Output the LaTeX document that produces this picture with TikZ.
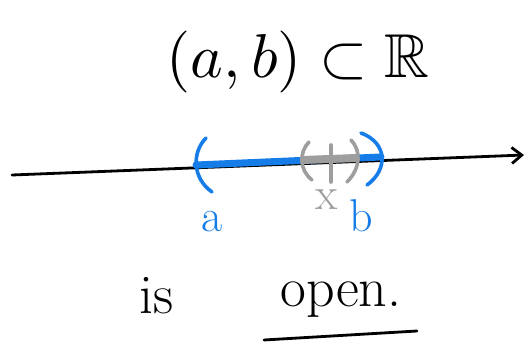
\documentclass[tikz,border=0pt]{standalone}
\usepackage{graphicx}
\usepackage{amsmath,amssymb}
\usetikzlibrary{arrows.meta,positioning}
\definecolor{penblue}{RGB}{22,124,232}
\definecolor{pengray}{RGB}{158,158,158}

\begin{document}
\begin{tikzpicture}[x=1pt, y=-1pt,
  ink/.style={line width=2.8pt, line cap=round, line join=round},
  brk/.style={line width=3.6pt, line cap=round},
  big/.style={inner sep=0pt},
  txt/.style={font=\fontsize{56}{60}\selectfont, inner sep=0pt},
  lbl/.style={font=\fontsize{46}{50}\selectfont, inner sep=0pt}
]
  \useasboundingbox (0,0) rectangle (529,347);

  % title
  \node[big] (title) at (298,62) {\scalebox{6.2}{$(a,b)\subset\mathbb{R}$}};

  % real line
  \coordinate (left) at (12,175);
  \coordinate (right) at (524,155);
  \draw[ink, -{Straight Barb[length=10pt, width=16pt]}] (left) -- (right);

  % the interval (a,b)
  \coordinate (pa) at (196,165);
  \coordinate (pb) at (381,157);
  \draw[penblue, line width=7pt, line cap=round] (pa) -- (pb);
  \draw[penblue, brk] (206,138) .. controls (192,152) and (192,178) .. (212,192);
  \draw[penblue, brk] (361,133) .. controls (388,143) and (388,170) .. (367,185);

  % neighbourhood of x
  \coordinate (px) at (331,159);
  \draw[pengray, line width=8pt] (302,160) -- (357,158);
  \draw[pengray, brk] (309,142) .. controls (299,152) and (299,170) .. (312,180);
  \draw[pengray, brk] (351,140) .. controls (361,150) and (361,168) .. (347,182);
  \draw[pengray, brk] (331,145) -- (331,182);

  % labels
  \node[lbl, text=penblue] (a) at (212,222) {a};
  \node[lbl, text=penblue] (b) at (361,216) {b};
  \node[lbl, text=pengray] (x) at (327,200) {x};

  % statement
  \node[txt] (is) at (157,296) {is};
  \node[txt] (open) at (341,300) {open.};
  \draw[ink] (264,340) -- (417,331);
\end{tikzpicture}
\end{document}
